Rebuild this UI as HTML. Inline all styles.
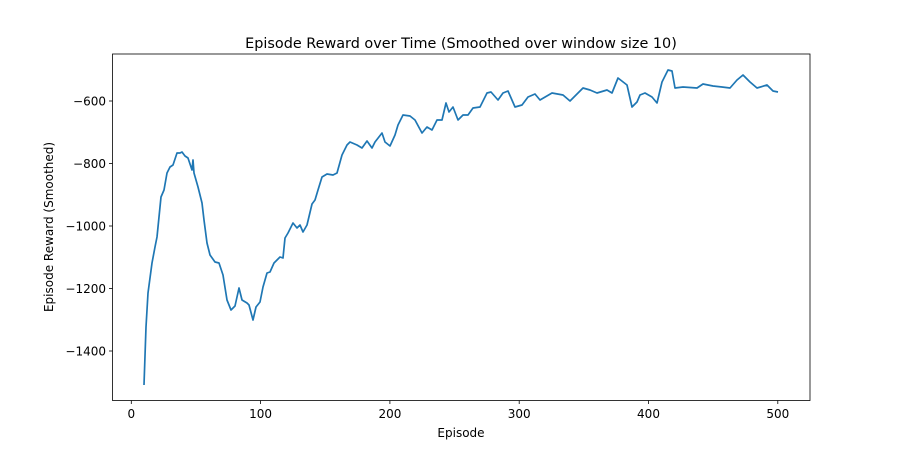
<!DOCTYPE html>
<html><head><style>body{margin:0;background:#fff}svg{display:block}text{font-family:"DejaVu Sans","Liberation Sans",sans-serif;fill:#000}</style></head>
<body>
<svg width="900" height="450" viewBox="0 0 900 450">
<rect width="900" height="450" fill="#fff"/>
<text x="461" y="48" font-size="14.4" text-anchor="middle">Episode Reward over Time (Smoothed over window size 10)</text>
<polyline fill="none" stroke="#1f77b4" stroke-width="1.7" stroke-linejoin="round" points="144,385 146,327 148,293 152,263 155,247 157,237 161,197 164,190 167,173 170,167 173,165 177,153 180,153 182,152 185,156 188,158 192,170 193,160 194,173 198,187 202,203 204,220 207,243 210,255 215,262 219,263 223,275 227,300 231,310 235,306 237,297 239,288 242,300 247,303 249,305 253,320 256,307 260,302 263,287 267,273 270,272 274,263 280,257 283,258 285,238 288,233 293,223 297,228 300,225 303,232 307,225 312,204 315,200 318,190 322,177 327,174 333,175 337,173 342,155 347,145 350,142 357,145 362,148 367,141 372,148 375,142 382,133 385,142 390,146 395,135 398,125 403,115 410,116 415,120 422,133 427,127 432,130 437,120 442,120 446,103 449,112 453,107 458,120 463,115 468,115 473,108 480,107 487,93 491,92 498,100 503,93 508,91 515,107 522,105 528,97 535,94 540,100 552,93 563,95 570,101 573,98 583,88 590,90 597,93 607,90 612,93 618,78 627,85 632,107 637,102 640,95 645,93 652,97 657,103 662,82 668,70 672,71 675,88 683,87 697,88 703,84 713,86 722,87 730,88 737,80 743,75 750,82 757,88 767,85 773,91 778,92"/>
<rect x="112.5" y="54" width="697.5" height="346.5" fill="none" stroke="#000" stroke-width="0.8"/>
<g stroke="#000" stroke-width="0.8">
<line x1="131.3" y1="400.5" x2="131.3" y2="404"/><line x1="260.6" y1="400.5" x2="260.6" y2="404"/><line x1="389.9" y1="400.5" x2="389.9" y2="404"/><line x1="519.2" y1="400.5" x2="519.2" y2="404"/><line x1="648.5" y1="400.5" x2="648.5" y2="404"/><line x1="777.8" y1="400.5" x2="777.8" y2="404"/>
<line x1="109" y1="101" x2="112.5" y2="101"/><line x1="109" y1="163.5" x2="112.5" y2="163.5"/><line x1="109" y1="226" x2="112.5" y2="226"/><line x1="109" y1="288.5" x2="112.5" y2="288.5"/><line x1="109" y1="351" x2="112.5" y2="351"/>
</g>
<g font-size="12" text-anchor="middle">
<text x="131.3" y="418">0</text><text x="260.6" y="418">100</text><text x="389.9" y="418">200</text><text x="519.2" y="418">300</text><text x="648.5" y="418">400</text><text x="777.8" y="418">500</text>
</g>
<g font-size="12" text-anchor="end">
<text x="106" y="105.5">−600</text><text x="106" y="168">−800</text><text x="106" y="230.5">−1000</text><text x="106" y="293">−1200</text><text x="106" y="355.5">−1400</text>
</g>
<text x="461" y="437" font-size="12" text-anchor="middle">Episode</text>
<text transform="translate(53,227) rotate(-90)" font-size="12" text-anchor="middle">Episode Reward (Smoothed)</text>
</svg>
</body></html>
